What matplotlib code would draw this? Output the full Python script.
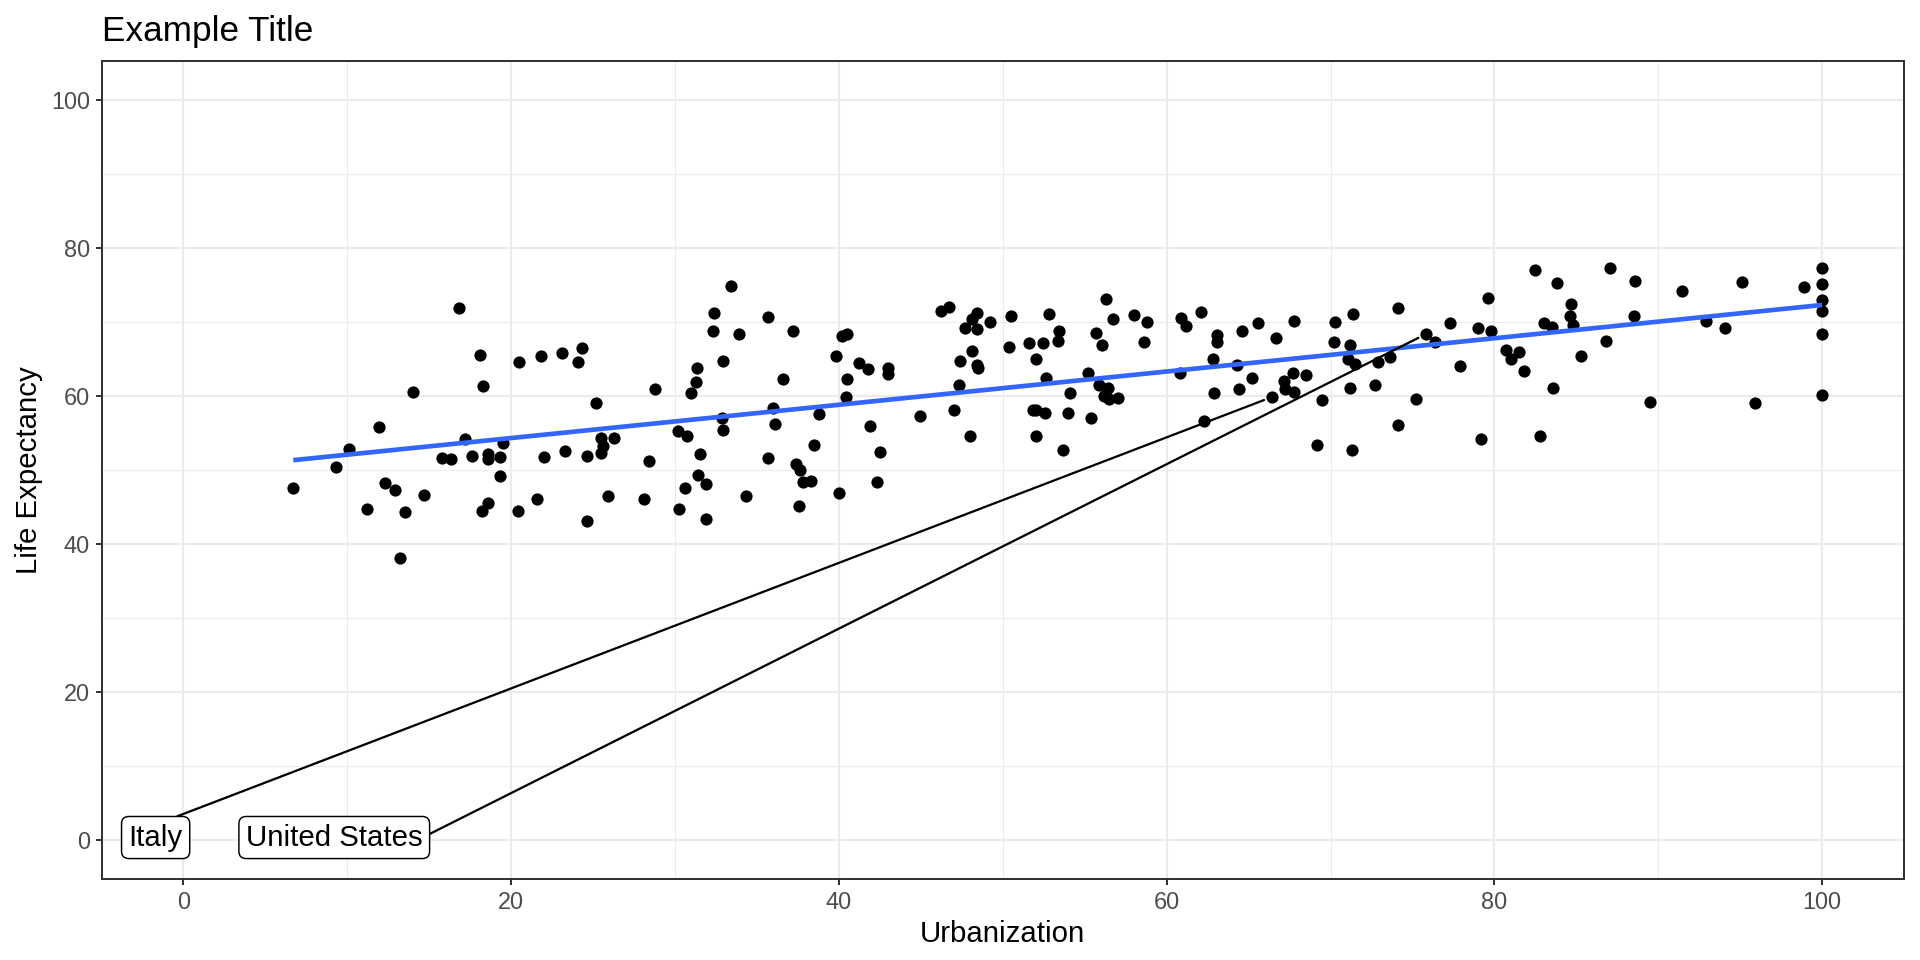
import matplotlib
matplotlib.use('Agg')

from matplotlib import pyplot as plt
from matplotlib.ticker import MultipleLocator
import numpy as np

# urbanization (%) and life expectancy (years)
urbanization = [
    6.7, 9.3, 10.1, 11.95, 11.2, 12.3, 12.9, 13.5, 13.2, 14.0, 14.7, 16.8, 15.8, 16.3, 17.2,
    17.6, 18.1, 18.3, 18.6, 18.6, 19.3, 19.5, 19.3, 18.6, 18.2, 20.4, 20.5, 21.8, 21.6, 22.0,
    23.1, 23.3, 24.3, 24.1, 25.2, 24.6, 24.6, 25.5, 25.6, 25.5, 26.3, 25.9, 28.1, 28.4, 28.8,
    30.15, 30.7, 31.0, 31.3, 31.35, 31.5, 31.4, 31.9, 30.6, 30.25, 31.9, 32.4, 32.3, 32.9, 32.85,
    32.9, 33.4, 33.9, 34.3, 35.7, 36.6, 36.0, 36.1, 35.7, 37.2, 37.4, 37.6, 37.8, 38.3, 37.55,
    38.5, 38.8, 39.85, 40.0, 40.2, 40.5, 40.5, 40.4, 41.25, 41.8, 41.9, 42.5, 42.3, 43.0, 43.0,
    44.95, 46.25, 46.7, 47.0, 47.3, 47.4, 48.0, 47.7, 48.1, 48.4, 48.4, 48.1, 48.4, 48.5, 49.2,
    50.5, 50.4, 51.6, 52.05, 51.85, 52.05, 52.05,
    52.45, 52.8, 53.4, 53.35, 52.65, 52.6, 54.1, 54.0, 53.7, 55.4, 55.2, 55.7, 56.05, 56.3, 56.7,
    55.9, 56.4, 56.15, 56.5, 57.0, 58.0, 58.8, 58.6, 60.9, 61.2, 60.8, 62.1, 62.25, 62.8, 62.9,
    63.1, 63.1, 64.3, 64.4, 64.6, 65.2, 65.6, 66.7, 66.4, 67.15, 67.2, 67.7, 67.8, 67.8, 68.5,
    69.45, 69.2, 70.3, 70.2, 71.4, 71.2, 71.05, 71.5, 71.2, 71.3, 72.7, 72.9, 73.6, 74.1, 75.2,
    74.1, 75.8,
    76.4, 77.3, 77.9, 79.0, 79.6, 79.8, 79.2, 80.7, 81.0, 81.5, 81.8, 82.5, 83.8, 82.8, 83.0,
    83.5, 83.6, 84.6, 84.7, 84.8, 85.3, 86.8, 87.05, 88.6, 88.5, 89.5, 91.45, 92.9, 94.1, 95.1,
    95.9, 98.9, 100, 100, 100, 100, 100, 100,
]
life_expectancy = [
    47.5, 50.4, 52.8, 55.8, 44.7, 48.2, 47.2, 44.3, 38.1, 60.5, 46.6, 71.9, 51.6, 51.5, 54.2,
    51.8, 65.5, 61.3, 52.1, 51.4, 51.7, 53.6, 49.2, 45.5, 44.4, 44.4, 64.5, 65.3, 46.1, 51.7,
    65.8, 52.5, 66.4, 64.5, 59.0, 51.8, 43.1, 54.3, 53.2, 52.2, 54.3, 46.4, 46.0, 51.2, 60.9,
    55.2, 54.6, 60.4, 61.9, 63.8, 52.1, 49.3, 48.0, 47.5, 44.7, 43.3, 71.2, 68.7, 64.7, 57.0,
    55.3, 74.8, 68.4, 46.4, 70.6, 62.2, 58.3, 56.2, 51.6, 68.7, 50.8, 50.0, 48.4, 48.5, 45.1,
    53.4, 57.5, 65.3, 46.9, 68.1, 68.4, 62.2, 59.8, 64.4, 63.6, 55.9, 52.4, 48.4, 63.7, 62.9,
    57.3, 71.4, 72.0, 58.0, 61.4, 64.7, 54.6, 69.1, 70.4, 71.2, 69.0, 66.0, 64.1, 63.8, 69.9,
    70.8, 66.6, 67.1, 65.0, 58.1, 58.1, 54.6,
    67.1, 71.1, 68.7, 67.4, 62.4, 57.6, 60.4, 57.7, 52.7, 57.0, 63.1, 68.5, 66.9, 73.1, 70.3,
    61.4, 61.1, 59.9, 59.6, 59.7, 70.9, 70.0, 67.2, 70.5, 69.4, 63.0, 71.3, 56.6, 64.9, 60.3,
    68.2, 67.2, 64.1, 60.9, 68.7, 62.4, 69.8, 67.8, 59.8, 62.0, 60.9, 63.1, 60.5, 70.1, 62.8,
    59.4, 53.3, 70.0, 67.3, 71.0, 66.9, 65.0, 64.3, 61.1, 52.6, 61.4, 64.5, 65.2, 71.8, 59.6,
    56.0, 68.3,
    67.2, 69.8, 64.0, 69.1, 73.2, 68.7, 54.1, 66.2, 64.9, 65.9, 63.4, 77.0, 75.2, 54.6, 69.8,
    69.3, 61.0, 70.8, 72.4, 69.6, 65.4, 67.4, 77.2, 75.5, 70.8, 59.1, 74.1, 70.1, 69.1, 75.4,
    59.0, 74.7, 77.3, 75.1, 72.9, 71.5, 68.3, 60.1,
]

# labelled countries: name, point, label position
label_names = ["Italy", "United States"]
label_points = [(66.4, 59.8), (75.8, 68.3)]
label_pos = [(-1.7, 0.3), (9.2, 0.3)]
# where the segment leaves the label box (fraction of box)
seg_start = [(0.55, 1.0), (1.0, 0.5)]

FONT = 'Liberation Sans'
plt.rcParams['font.family'] = [FONT, 'DejaVu Sans']

fig = plt.figure(figsize=(10, 5), dpi=192)
ax = fig.add_axes([0.0529, 0.0844, 0.9388, 0.8519])

x = np.array(urbanization)
y = np.array(life_expectancy)

ax.scatter(x, y, s=21, color='black', linewidths=0, zorder=3)

# linear fit, like geom_smooth(method = "lm", se = FALSE)
slope, intercept = np.polyfit(x, y, 1)
xs = np.array([x.min(), x.max()])
ax.plot(xs, intercept + slope * xs, color='#3366FF', lw=1.75, zorder=4, solid_capstyle='butt')

for name, pt, pos, rel in zip(label_names, label_points, label_pos, seg_start):
    ax.annotate(name, xy=pt, xytext=pos, textcoords='data', fontsize=11,
                ha='center', va='center', zorder=6,
                bbox=dict(boxstyle='round,pad=0.24,rounding_size=0.25', fc='white', ec='black', lw=0.55),
                arrowprops=dict(arrowstyle='-', color='black', lw=0.85, shrinkA=0, shrinkB=3,
                                relpos=rel))

ax.set_xlim(-5, 105)
ax.set_ylim(-5.3, 105.2)
ax.xaxis.set_major_locator(MultipleLocator(20))
ax.xaxis.set_minor_locator(MultipleLocator(10))
ax.yaxis.set_major_locator(MultipleLocator(20))
ax.yaxis.set_minor_locator(MultipleLocator(10))
ax.set_axisbelow(True)
ax.grid(which='major', color='#EBEBEB', lw=0.8)
ax.grid(which='minor', color='#EBEBEB', lw=0.4)
ax.tick_params(which='major', length=2.4, width=0.75, color='#333333',
               labelcolor='#4D4D4D', labelsize=8.8, pad=2)
ax.tick_params(which='minor', length=0)
for sp in ax.spines.values():
    sp.set_color('#333333')
    sp.set_linewidth(0.75)

ax.set_title("Example Title", loc='left', fontsize=13.2, pad=7.5)
ax.set_xlabel("Urbanization", fontsize=11, labelpad=2.5)
ax.set_ylabel("Life Expectancy", fontsize=11, labelpad=3)

plt.savefig("out.png", dpi=192)
